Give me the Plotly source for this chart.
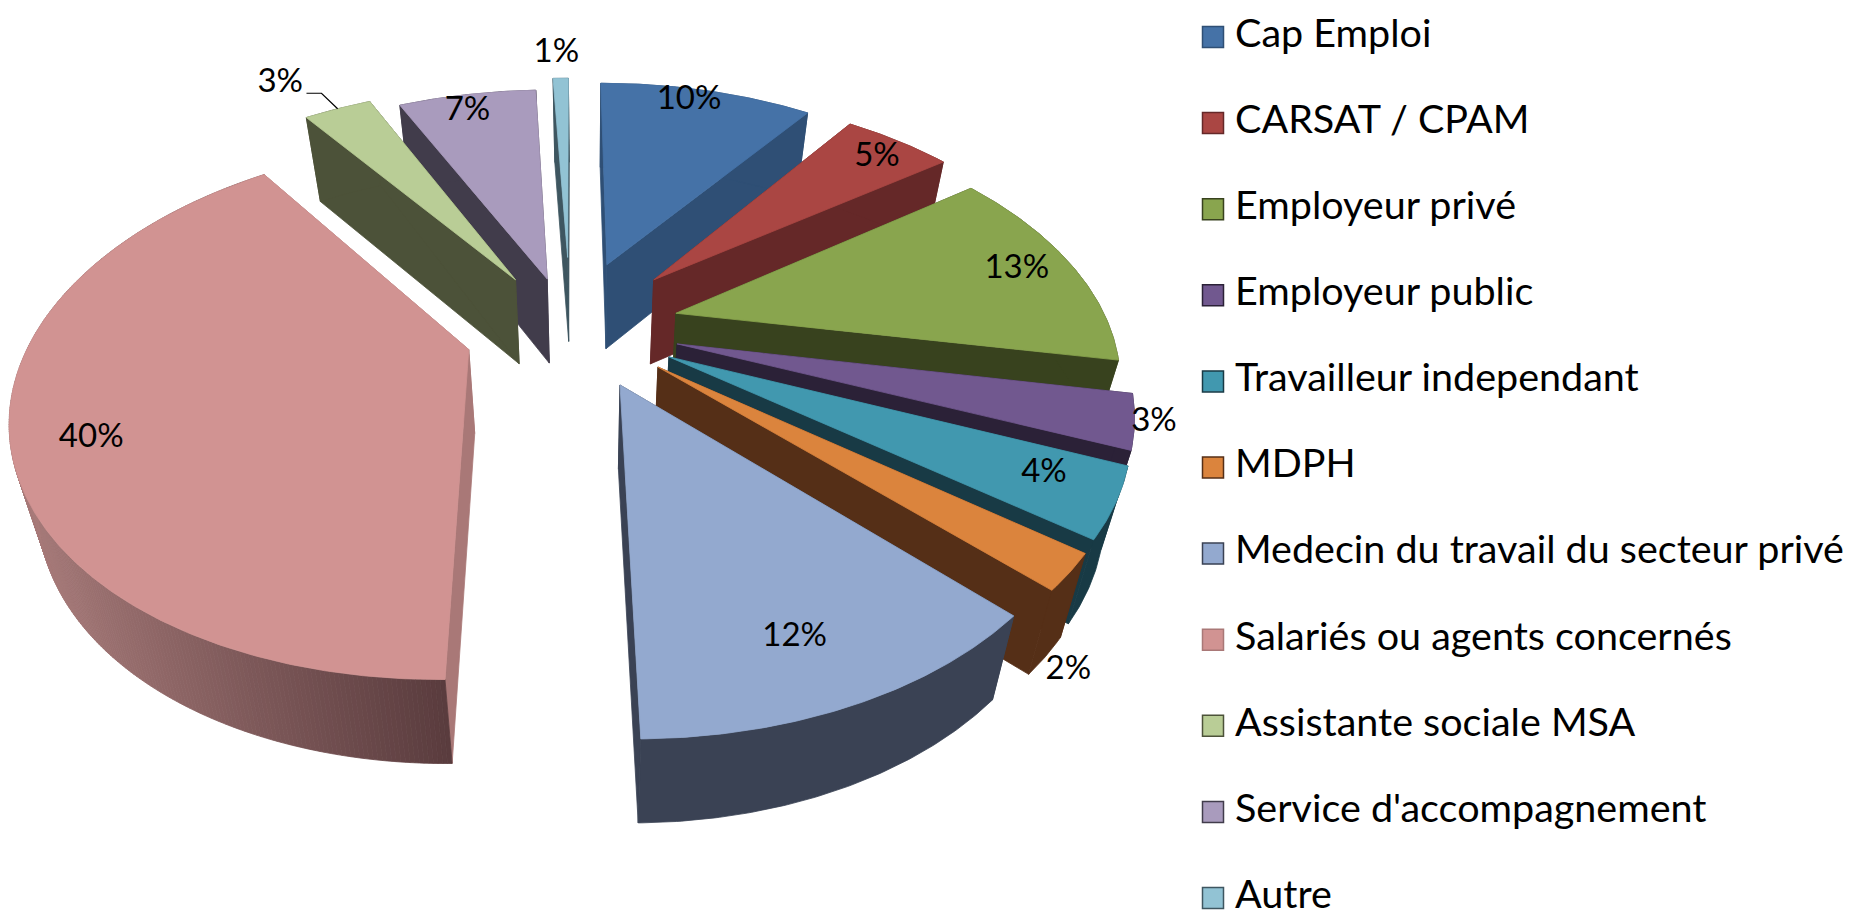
import numpy as np
import plotly.graph_objects as go

categories = ["Cap Emploi", "CARSAT / CPAM", "Employeur privé", "Employeur public",
              "Travailleur independant", "MDPH", "Medecin du travail du secteur privé",
              "Salariés ou agents concernés", "Assistante sociale MSA",
              "Service d'accompagnement", "Autre"]
values = [10, 5, 13, 3, 4, 2, 12, 40, 3, 7, 1]
top_colors = ["#4572A7", "#AA4643", "#89A54E", "#71588F", "#4198AF", "#DB843D",
              "#93A9CF", "#D19392", "#B9CD96", "#A99BBD", "#92C3D4"]
wall_colors = ["#2F4F75", "#652828", "#38421E", "#2B2137", "#183A45", "#552F17",
               "#3A4254", "#A97877", "#4C5239", "#413C4B", "#3E5660"]
# explosion of each slice, as a share of the radius
pull = [0.28, 0.28, 0.25, 0.25, 0.25, 0.25, 0.25, 0.25, 0.24, 0.21, 0.3]
# drawn radius of each slice
radius = [1, 1, 1, 1, 1, 1, 1, 1, 1.05, 1.02, 1]
# small angular correction of each slice boundary for the skew of the 3D view (degrees)
edge_adjust = [0, 0, 0, 0, 1, 1.5, 2, 3, 3.5, 3.5, 1, 0]
# label placement, as radius share and angle offset from the slice middle
label_r = [0.92, 0.88, 0.86, 1.04, 0.85, 1.14, 0.82, 0.84, 1.29, 0.91, 1.17]
label_da = [-2, 1, 0, 0, 0, 13.5, 4, -1, 0, 1, 0]

# projection of the tilted pie
CX, CY, AX, BY, PERSP, DEPTH = 563.5, 318.5, 433, 245.6, 0.22, 84
VX, SHRINK = 580, 0.95   # depth lines converge towards VX
FONT = "Lato"


def project(X, Y):
    w = 1 + PERSP * np.asarray(Y, dtype=float)
    return CX + AX * np.asarray(X, dtype=float) / w, CY - BY * np.asarray(Y, dtype=float) / w


def polar(t, r, off=(0, 0)):
    t = np.radians(t)
    return off[0] + r * np.sin(t), off[1] + r * np.cos(t)


def low(x):
    return VX + (x - VX) * SHRINK


def lerp(c1, c2, t):
    a = [int(c1[i:i + 2], 16) for i in (1, 3, 5)]
    b = [int(c2[i:i + 2], 16) for i in (1, 3, 5)]
    return "rgb(%d,%d,%d)" % tuple(round(u + (v - u) * t) for u, v in zip(a, b))


def poly(fig, xs, ys, fill, line=None):
    fig.add_trace(go.Scatter(x=list(xs), y=list(ys), mode="lines", fill="toself", fillcolor=fill,
                             line=dict(color=line or fill, width=0.8), hoverinfo="skip",
                             showlegend=False))


fig = go.Figure()

edges = np.concatenate([[0], np.cumsum(values)]) * 3.6
order = [10, 9, 8, 0, 1, 2, 3, 4, 5, 7, 6]  # back to front
for i in order:
    t0, t1 = edges[i], edges[i + 1]
    mid = (t0 + t1) / 2
    off = (pull[i] * np.sin(np.radians(mid)), pull[i] * np.cos(np.radians(mid)))
    steps = int((t1 - t0) * 2) + 4
    ts = np.linspace(t0 + edge_adjust[i], t1 + edge_adjust[i + 1], steps + 1)
    rx, ry = polar(ts, radius[i], off)
    sx, sy = project(rx, ry)
    ax, ay = project(*off)
    # radial walls
    for k in (0, -1):
        poly(fig, [ax, sx[k], low(sx[k]), low(ax), ax], [ay, sy[k], sy[k] + DEPTH, ay + DEPTH, ay],
             wall_colors[i])
    # outer wall
    if i == 7:
        for k in range(len(ts) - 1):
            col = lerp("#A87B7A", "#5A3C3E", (sx[k] - sx.min()) / (sx.max() - sx.min()))
            poly(fig, [sx[k], sx[k + 1], low(sx[k + 1]), low(sx[k]), sx[k]],
                 [sy[k], sy[k + 1], sy[k + 1] + DEPTH, sy[k] + DEPTH, sy[k]], col)
    else:
        poly(fig, [*sx, *low(sx[::-1]), sx[0]], [*sy, *(sy[::-1] + DEPTH), sy[0]], wall_colors[i])
    # top
    poly(fig, [ax, *sx, ax], [ay, *sy, ay], top_colors[i])

# data labels
lx, ly, txt = [], [], []
for i, v in enumerate(values):
    mid = (edges[i] + edges[i + 1]) / 2
    off = (pull[i] * np.sin(np.radians(mid)), pull[i] * np.cos(np.radians(mid)))
    X, Y = polar(mid + label_da[i], label_r[i], off)
    x, y = project(X, Y)
    lx.append(float(x)); ly.append(float(y)); txt.append(f"{v}%")
fig.add_trace(go.Scatter(x=lx, y=ly, text=txt, mode="text", textposition="middle center",
                         textfont=dict(family=FONT, size=33, color="black"),
                         showlegend=False, hoverinfo="skip", cliponaxis=False))

# leader line of the 3% label (Assistante sociale MSA)
mid = (edges[8] + edges[9]) / 2
off = (pull[8] * np.sin(np.radians(mid)), pull[8] * np.cos(np.radians(mid)))
x1, y1 = project(*polar(mid + 3.5, radius[8], off))
x2, y2 = project(*polar(mid + 3.5, radius[8] * 1.11, off))
fig.add_trace(go.Scatter(x=[float(x1), float(x2), float(x2) - 15], y=[float(y1), float(y2), float(y2)],
                         mode="lines", line=dict(color="black", width=1.2),
                         showlegend=False, hoverinfo="skip"))

# legend, laid out in the same pixel axes: it is taller than a native legend may be
LEG_MARK_X, LEG_TEXT_X, LEG_MARK_TOP, LEG_TEXT_TOP, LEG_STEP = 1205, 1227, 29, 29, 86.1
for i, (name, col, wall) in enumerate(zip(categories, top_colors, wall_colors)):
    fig.add_trace(go.Scatter(x=[LEG_MARK_X], y=[LEG_MARK_TOP + LEG_STEP * i], mode="markers", name=name,
                             marker=dict(symbol="square", size=21, color=col,
                                         line=dict(color=wall, width=1.5)),
                             showlegend=False, hoverinfo="skip"))
fig.add_trace(go.Scatter(x=[LEG_TEXT_X] * len(categories),
                         y=[LEG_TEXT_TOP + LEG_STEP * i for i in range(len(categories))],
                         text=categories, mode="text", textposition="middle right",
                         textfont=dict(family=FONT, size=39.5, color="black"),
                         showlegend=False, hoverinfo="skip", cliponaxis=False))

fig.update_layout(
    width=1856, height=914, margin=dict(l=0, r=0, t=0, b=0, pad=0),
    paper_bgcolor="white", plot_bgcolor="white", showlegend=False,
    xaxis=dict(range=[0, 1856], visible=False, fixedrange=True),
    yaxis=dict(range=[914, 0], visible=False, fixedrange=True),
)
fig.write_html("out.html")
